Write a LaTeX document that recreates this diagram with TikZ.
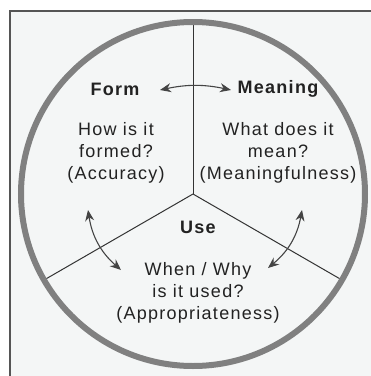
\documentclass[tikz,border=0pt]{standalone}
\usepackage{fontspec}
\setmainfont{Liberation Sans}[LetterSpace=7]
\usepackage{tikz}
\usetikzlibrary{arrows.meta}
\usetikzlibrary{positioning}

\definecolor{panel}{HTML}{F4F6F6}
\definecolor{framec}{HTML}{555555}
\definecolor{ringc}{HTML}{808080}
\definecolor{spokec}{HTML}{333333}
\definecolor{arrowc}{HTML}{444444}
\definecolor{ink}{HTML}{222222}

\begin{document}
\begin{tikzpicture}[x=1pt, y=-1pt, >={Stealth[length=11pt,width=9pt]},
    txt/.style={align=center, text=ink, font=\fontsize{18}{22}\selectfont},
    head/.style={text=ink, font=\fontsize{18}{20}\selectfont\bfseries},
    link/.style={<->, line width=1.1pt, draw=arrowc}]

  \useasboundingbox (0,0) rectangle (371,376);
  \fill[panel, draw=framec, line width=1.2pt] (10,11) rectangle (390,400);

%%%%%%%%%%%% Wheel
  \coordinate (hub) at (193,194);
  \foreach \a in {270,150,30} {
    \draw[spokec, line width=1pt] (hub) -- ++(\a:170);
  }
  \draw[ringc, line width=6pt] (hub) circle (172);

%%%%%%%%%%%% Labels
  \node[head] (form) at (115,89) {Form};
  \node[head] (meaning) at (278,89) {Meaning};
  \node[head] (use) at (198,227) {Use};

  \node[txt] (formq) at (116,153) {How is it\\formed?\\(Accuracy)};
  \node[txt] (meanq) at (278,153) {What does it\\mean?\\(Meaningfulness)};
  \node[txt] (useq) at (198,293) {When / Why\\is it used?\\(Appropriateness)};

%%%%%%%%%%%% Arrows
  \coordinate (fm1) at (160,90);
  \coordinate (fm2) at (231,90);
  \coordinate (fu1) at (88,210);
  \coordinate (fu2) at (121,270);
  \coordinate (mu1) at (302,210);
  \coordinate (mu2) at (268,268);

  \draw[link] (fm1) to[bend left=12] (fm2);
  \draw[link] (fu1) to[bend right=20] (fu2);
  \draw[link] (mu1) to[bend left=20] (mu2);
\end{tikzpicture}
\end{document}
